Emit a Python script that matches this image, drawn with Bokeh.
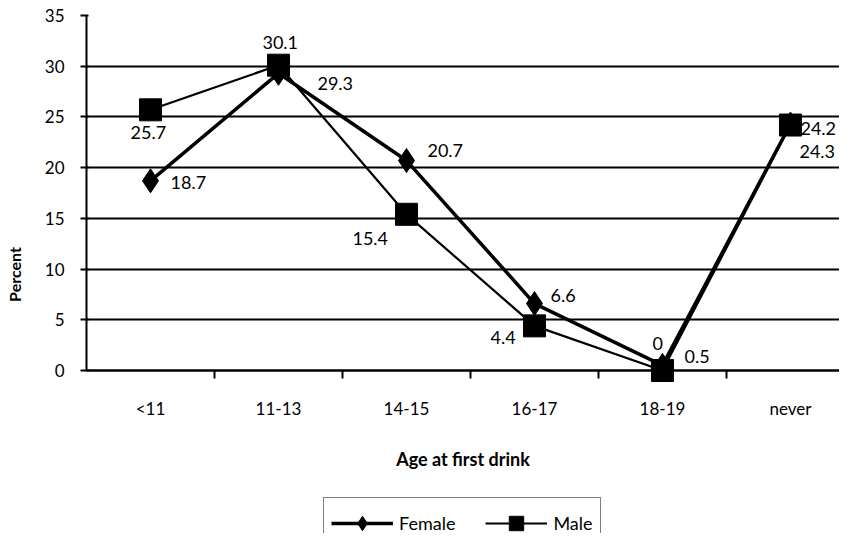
from bokeh.plotting import figure
from bokeh.models import FixedTicker, Legend, LegendItem
from bokeh.core.properties import value
from bokeh.embed import file_html
from bokeh.resources import INLINE

# ---- data ----
categories = ["<11", "11-13", "14-15", "16-17", "18-19", "never"]
female = [18.7, 29.3, 20.7, 6.6, 0.5, 24.3]
male = [25.7, 30.1, 15.4, 4.4, 0, 24.2]
y_ticks = [0, 5, 10, 15, 20, 25, 30, 35]

# ---- label placement (screen px offsets, styles only) ----
female_dx = [20, 39, 21, 16, 22, 9]
female_dy = [2, 10, -10, -8, -9, 27]
male_dx = [-20, -16, -54, -44, -10, 10]
male_dy = [23, -23, 24, 12, -27, 3]

FONT = "Lato"

xpos = [i + 0.5 for i in range(len(categories))]
boundaries = [i for i in range(1, len(categories))]

# frame runs to the bottom of the canvas; the x axis sits at y = 0
p = figure(width=839, height=533, x_range=(0, 5.883), y_range=(-16.07, 35),
           output_backend="svg", toolbar_location=None,
           min_border_left=86, min_border_top=15, min_border_right=0,
           min_border_bottom=0)
p.outline_line_color = None
p.background_fill_color = "white"
p.border_fill_color = "white"

# x axis: labels at category centres, tick marks at boundaries
xa = p.xaxis[0]
xa.fixed_location = 0
xa.ticker = FixedTicker(ticks=xpos, minor_ticks=boundaries)
xa.major_label_overrides = {x: c for x, c in zip(xpos, categories)}
xa.major_tick_line_color = None
xa.major_tick_out = 0
xa.major_tick_in = 0
xa.minor_tick_line_color = "black"
xa.minor_tick_line_width = 2
xa.minor_tick_out = 8
xa.minor_tick_in = 0
xa.major_label_standoff = 19
xa.major_label_text_font = FONT
xa.major_label_text_font_size = "17px"
xa.major_label_text_color = "black"
xa.axis_line_color = "black"
xa.axis_line_width = 2
xa.axis_label = "Age at first drink"
xa.axis_label_text_font = FONT
xa.axis_label_text_font_style = "bold"
xa.axis_label_text_font_size = "18px"
xa.axis_label_text_color = "black"
xa.axis_label_standoff = 26

# y axis
ya = p.yaxis[0]
ya.bounds = (0, 35)
ya.ticker = FixedTicker(ticks=y_ticks)
ya.major_tick_out = 6
ya.major_tick_in = 2
ya.major_tick_line_color = "black"
ya.major_tick_line_width = 2
ya.minor_tick_line_color = None
ya.major_label_standoff = 16
ya.major_label_text_font = FONT
ya.major_label_text_font_size = "17px"
ya.major_label_text_color = "black"
ya.axis_line_color = "black"
ya.axis_line_width = 2
ya.axis_label = "Percent"
ya.axis_label_text_font = FONT
ya.axis_label_text_font_style = "bold"
ya.axis_label_text_font_size = "16px"
ya.axis_label_text_color = "black"
ya.axis_label_standoff = 18

p.xgrid.visible = False
p.ygrid.ticker = FixedTicker(ticks=y_ticks)
p.ygrid.grid_line_color = "black"
p.ygrid.grid_line_width = 2

# series
fl = p.line(xpos, female, line_color="black", line_width=3.5)
fs = p.scatter(xpos, female, marker="diamond", size=24,
               fill_color="black", line_color="black")
ml = p.line(xpos, male, line_color="black", line_width=2.2)
ms = p.scatter(xpos, male, marker="square", size=22,
               fill_color="black", line_color="black")

# data labels
p.text(x=xpos, y=female, text=[f"{v:g}" for v in female],
       x_offset=female_dx, y_offset=female_dy,
       text_font=value(FONT), text_font_size="18px", text_color="black",
       text_align="left", text_baseline="middle")
p.text(x=xpos, y=male, text=[f"{v:g}" for v in male],
       x_offset=male_dx, y_offset=male_dy,
       text_font=value(FONT), text_font_size="18px", text_color="black",
       text_align="left", text_baseline="middle")

legend = Legend(items=[LegendItem(label="Female", renderers=[fl, fs]),
                       LegendItem(label="Male", renderers=[ml, ms])],
                orientation="horizontal", location=(237, -16),
                glyph_width=62, glyph_height=36, padding=7, spacing=30,
                label_standoff=6, margin=0,
                label_text_font=FONT, label_text_font_size="18px",
                label_text_color="black",
                border_line_color="black", border_line_width=1.5,
                background_fill_color="white", background_fill_alpha=1)
p.add_layout(legend)

open("out.html", "w").write(file_html(p, INLINE))
